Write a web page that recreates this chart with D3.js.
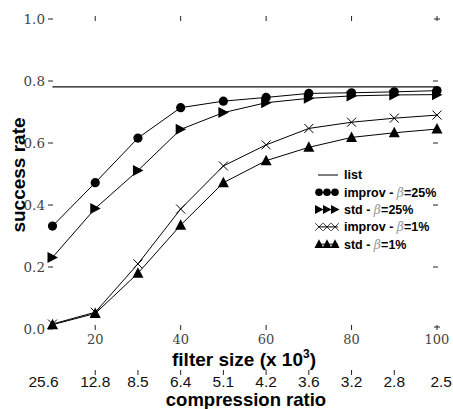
<!DOCTYPE html>
<html><head><meta charset="utf-8">
<script src="https://cdn.jsdelivr.net/npm/d3@7"></script>
<style>body{margin:0;background:#fff}svg{display:block}</style>
</head><body>
<svg id="c" width="453" height="409"></svg>
<script>
const filterSizes = [10,20,30,40,50,60,70,80,90,100];
const compressionLabels = ["25.6","12.8","8.5","6.4","5.1","4.2","3.6","3.2","2.8","2.5"];
const xTicks = [20,40,60,80,100];
const yTicks = [0.0,0.2,0.4,0.6,0.8,1.0];
const listValue = 0.781;
const improv25 = [0.332,0.472,0.616,0.714,0.735,0.747,0.760,0.762,0.765,0.769];
const std25    = [0.231,0.389,0.511,0.644,0.698,0.730,0.744,0.752,0.755,0.756];
const improv1  = [0.016,0.054,0.210,0.387,0.526,0.594,0.647,0.667,0.680,0.690];
const std1     = [0.014,0.050,0.180,0.335,0.472,0.543,0.586,0.618,0.633,0.645];
const seriesNames = ["improv","std","improv","std"];
const betas = ["25%","25%","1%","1%"];
const shapes = ["circle","right","cross","up"];

const svg = d3.select("#c");
const x = d3.scaleLinear().domain([10,100]).range([52.5,437]);
const y = d3.scaleLinear().domain([0,1]).range([329,19]);
const serif = "'DejaVu Serif', serif";
const sans = "'Liberation Sans', Arial, sans-serif";

// left ticks + labels
yTicks.forEach(v=>{
  svg.append("line").attr("x1",48).attr("x2",53).attr("y1",y(v)).attr("y2",y(v)).attr("stroke","#222").attr("stroke-width",1);
  svg.append("text").attr("x",45).attr("y",y(v)).attr("dy","0.35em").attr("text-anchor","end")
    .style("font-family",serif).style("font-size","13.5px").attr("fill","#444").text(v.toFixed(1));
  if(v>0 && v<1) svg.append("line").attr("x1",433).attr("x2",438).attr("y1",y(v)).attr("y2",y(v)).attr("stroke","#222");
});
// top/bottom ticks + labels
xTicks.forEach(v=>{
  svg.append("line").attr("x1",x(v)).attr("x2",x(v)).attr("y1",16).attr("y2",21).attr("stroke","#222");
  svg.append("line").attr("x1",x(v)).attr("x2",x(v)).attr("y1",325).attr("y2",330).attr("stroke","#222");
  svg.append("text").attr("x",x(v)).attr("y",344).attr("text-anchor","middle")
    .style("font-family",serif).style("font-size","13px").attr("fill","#444").text(v);
});
svg.append("line").attr("x1",434).attr("x2",440).attr("y1",y(1)).attr("y2",y(1)).attr("stroke","#222");
svg.append("line").attr("x1",434).attr("x2",440).attr("y1",y(0)-2).attr("y2",y(0)-2).attr("stroke","#222");

// x title
const xt = svg.append("text").attr("x",244).attr("y",366).attr("text-anchor","middle")
  .style("font-family",sans).attr("font-weight","bold").style("font-size","19px");
xt.append("tspan").text("filter size (x 10");
xt.append("tspan").style("font-size","12px").attr("dy",-8).text("3");
xt.append("tspan").attr("dy",8).text(")");

// compression ratio axis
filterSizes.forEach((s,i)=>{
  let px = x(s), anchor = "middle";
  if(i===0) px -= 9;
  if(i===filterSizes.length-1){ px = 452; anchor = "end"; }
  if(i>0 && i<filterSizes.length-1)
    svg.append("line").attr("x1",x(s)).attr("x2",x(s)).attr("y1",370).attr("y2",375).attr("stroke","#222");
  svg.append("text").attr("x",px).attr("y",387).attr("text-anchor",anchor)
    .style("font-family",sans).style("font-size","15.5px").attr("fill","#111").text(compressionLabels[i]);
});
svg.append("text").attr("x",246).attr("y",406).attr("text-anchor","middle")
  .style("font-family",sans).attr("font-weight","bold").style("font-size","18.5px").text("compression ratio");

// y title
svg.append("text").attr("transform","translate(25,175) rotate(-90)").attr("text-anchor","middle")
  .style("font-family",sans).attr("font-weight","bold").style("font-size","19px").text("success rate");

// list line
svg.append("line").attr("x1",x(10)).attr("x2",x(100)).attr("y1",y(listValue)).attr("y2",y(listValue))
  .attr("stroke","#111").attr("stroke-width",1.2);

function marker(g, shape, cx, cy){
  if(shape==="circle") g.append("circle").attr("cx",cx).attr("cy",cy).attr("r",4.6).attr("fill","#000");
  else if(shape==="right") g.append("path").attr("d",`M${cx-5},${cy-5.5}L${cx+5.5},${cy}L${cx-5},${cy+5.5}Z`).attr("fill","#000");
  else if(shape==="up") g.append("path").attr("d",`M${cx},${cy-6}L${cx+5.5},${cy+4.5}L${cx-5.5},${cy+4.5}Z`).attr("fill","#000");
  else g.append("path").attr("d",`M${cx-4.5},${cy-4.5}L${cx+4.5},${cy+4.5}M${cx-4.5},${cy+4.5}L${cx+4.5},${cy-4.5}`).attr("stroke","#000").attr("stroke-width",1).attr("fill","none");
}

const allSeries = [improv25, std25, improv1, std1];
const line = d3.line().x((d,i)=>x(filterSizes[i])).y(d=>y(d));
allSeries.forEach((s,k)=>{
  const g = svg.append("g");
  g.append("path").attr("d",line(s)).attr("fill","none").attr("stroke","#000").attr("stroke-width",1);
  s.forEach((v,i)=>marker(g, shapes[k], x(filterSizes[i]), y(v)));
});

// legend
const lg = svg.append("g");
const ly0 = 175, ldy = 17.3;
lg.append("line").attr("x1",318).attr("x2",338).attr("y1",ly0).attr("y2",ly0).attr("stroke","#000");
lg.append("text").attr("x",344).attr("y",ly0).attr("dy","0.35em").style("font-family",sans)
  .attr("font-weight","bold").style("font-size","12.5px").text("list");
shapes.forEach((sh,k)=>{
  const yy = ly0 + ldy*(k+1);
  const g = lg.append("g");
  g.append("line").attr("x1",318).attr("x2",338).attr("y1",yy).attr("y2",yy).attr("stroke","#000");
  [319,327,335].forEach(cx=>{
    if(sh==="circle") g.append("circle").attr("cx",cx).attr("cy",yy).attr("r",3.8).attr("fill","#000");
    else if(sh==="right") g.append("path").attr("d",`M${cx-4},${yy-4.5}L${cx+4.5},${yy}L${cx-4},${yy+4.5}Z`);
    else if(sh==="up") g.append("path").attr("d",`M${cx},${yy-5}L${cx+4.5},${yy+3.8}L${cx-4.5},${yy+3.8}Z`);
    else g.append("path").attr("d",`M${cx-3.8},${yy-3.8}L${cx+3.8},${yy+3.8}M${cx-3.8},${yy+3.8}L${cx+3.8},${yy-3.8}`).attr("stroke","#000").attr("stroke-width",0.8);
  });
  const t = lg.append("text").attr("x",344).attr("y",yy).attr("dy","0.35em").style("font-family",sans)
    .attr("font-weight","bold").style("font-size","12.5px");
  t.append("tspan").text(seriesNames[k]+" - ");
  t.append("tspan").style("font-family",serif).style("font-style","italic").style("font-weight","normal").attr("fill","#999").text("β");
  t.append("tspan").text("="+betas[k]);
});
</script>
</body></html>
